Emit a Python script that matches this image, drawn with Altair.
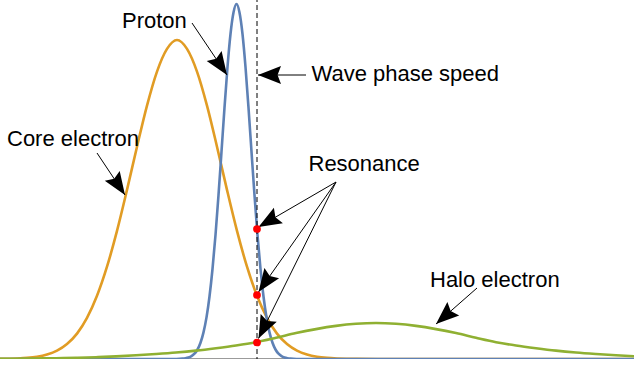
import math
import altair as alt
import pandas as pd

W, H = 634, 359

# ---- curves (x in px-like units, y = height above baseline)
core_x = [0, 17, 27, 37, 47, 57, 67, 77, 87, 97, 107, 117, 127, 137, 147, 157, 167, 177,
          187, 197, 207, 217, 227, 237, 247, 257, 267, 277, 287, 297, 307, 317, 327, 337, 357, 400, 634]
core_y = [0.12, 0.5, 1.08, 2.25, 4.5, 8.4, 15.0, 25.4, 41.1, 63.2, 92.3, 128.1, 169.1, 212.3, 253.4, 287.4, 310.1, 319,
          310.1, 287.4, 253.4, 212.3, 169.1, 128.1, 92.3, 63.2, 41.1, 25.4, 15.0, 8.4, 4.5, 2.25, 1.08, 0.5, 0.09, 0, 0]

proton_x = [0, 150, 176.5, 182.5, 185.5, 188.5, 191.5, 194.5, 197.5, 200.5, 203.5, 206.5, 209.5, 212.5, 215.5,
            218.5, 221.5, 224.5, 227.5, 230.5, 233.5, 236.5, 239.5, 242.5, 245.5, 248.5, 251.5, 254.5, 257.5,
            260.5, 263.5, 266.5, 269.5, 272.5, 275.5, 278.5, 281.5, 284.5, 287.5, 290.5, 296.5, 330, 634]
proton_y = [0, 0, 0.07, 0.34, 0.73, 1.48, 2.87, 5.3, 9.5, 16.2, 26.6, 41.6, 62.5, 90.0, 124.0,
            163.8, 207.3, 251.4, 292.0, 325.0, 346.5, 355, 346.5, 325.0, 292.0, 251.4, 207.3, 163.8, 124.0,
            90.0, 62.5, 41.6, 26.6, 16.2, 9.5, 5.3, 2.87, 1.48, 0.73, 0.34, 0.07, 0, 0]

halo_x = [0, 16, 36, 56, 76, 96, 116, 136, 156, 176, 196, 216, 236, 256, 276, 296, 316, 336, 356, 376,
          396, 416, 436, 456, 476, 496, 516, 536, 556, 576, 596, 616, 634]
halo_y = [0.2, 0.3, 0.5, 0.8, 1.2, 1.8, 2.6, 3.7, 5.0, 6.5, 8.4, 10.8, 13.5, 16.8, 21.2, 25.9, 29.9, 33.1, 35.2, 36,
          35.2, 33.1, 29.9, 25.9, 21.2, 16.8, 13.5, 10.8, 8.4, 6.5, 5.0, 3.7, 2.7]

phase_speed = 257
res_x = [257, 257, 257]
res_y = [130, 64, 16.5]

# annotations
label_text = ["Proton", "Wave phase speed", "Core electron", "Resonance", "Halo electron"]
label_x = [122, 311.5, 7, 308.5, 430]
label_y = [331, 278, 213, 188, 72]

arrow_tail_x = [192, 306, 97, 336, 336, 336, 477]
arrow_tail_y = [336, 284, 206, 177, 177, 177, 71]
arrow_tip_x = [227, 258, 125, 258.5, 258.5, 258.5, 436]
arrow_tip_y = [284, 284, 164, 132, 67, 20.5, 35]

COL_CORE = "#E19C24"
COL_PROTON = "#5E81B5"
COL_HALO = "#8FB032"

xs = alt.Scale(domain=[0, W], nice=False, zero=False)
ys = alt.Scale(domain=[0, H], nice=False, zero=False)


def curve(xv, yv, color):
    df = pd.DataFrame({"x": xv, "y": yv})
    return alt.Chart(df).mark_line(color=color, strokeWidth=2.6, interpolate="monotone").encode(
        x=alt.X("x:Q", scale=xs, axis=None),
        y=alt.Y("y:Q", scale=ys, axis=None),
    )


axis_line = alt.Chart(pd.DataFrame({"x": [0], "x2": [W], "y": [0]})).mark_rule(
    color="#7a7a7a", strokeWidth=1.4
).encode(x=alt.X("x:Q", scale=xs, axis=None), x2="x2:Q", y=alt.Y("y:Q", scale=ys, axis=None))

dashed = alt.Chart(pd.DataFrame({"x": [phase_speed], "y": [-3], "y2": [H]})).mark_rule(
    color="black", strokeWidth=1, strokeDash=[5, 3]
).encode(x=alt.X("x:Q", scale=xs, axis=None), y=alt.Y("y:Q", scale=ys, axis=None), y2="y2:Q")

arr = pd.DataFrame({"x": arrow_tail_x, "y": arrow_tail_y, "x2": arrow_tip_x, "y2": arrow_tip_y})
arr["angle"] = [
    (math.degrees(math.atan2(tx - sx, ty - sy)) + 360) % 360
    for sx, sy, tx, ty in zip(arrow_tail_x, arrow_tail_y, arrow_tip_x, arrow_tip_y)
]

arrow_lines = alt.Chart(arr).mark_rule(color="black", strokeWidth=1).encode(
    x=alt.X("x:Q", scale=xs, axis=None), y=alt.Y("y:Q", scale=ys, axis=None), x2="x2:Q", y2="y2:Q"
)

head_path = "M0,0 L0.78,2 L0,1.7 L-0.78,2 Z"
arrow_heads = alt.Chart(arr).mark_point(
    shape=head_path, filled=True, size=529, color="black", opacity=1, strokeWidth=0
).encode(
    x=alt.X("x2:Q", scale=xs, axis=None),
    y=alt.Y("y2:Q", scale=ys, axis=None),
    angle=alt.Angle("angle:Q", scale=None),
)

dots = alt.Chart(pd.DataFrame({"x": res_x, "y": res_y})).mark_circle(
    color="#FF0000", size=60, opacity=1
).encode(x=alt.X("x:Q", scale=xs, axis=None), y=alt.Y("y:Q", scale=ys, axis=None))

labels = alt.Chart(pd.DataFrame({"x": label_x, "y": label_y, "t": label_text})).mark_text(
    align="left", baseline="alphabetic", font="Liberation Sans", fontSize=22, color="black"
).encode(x=alt.X("x:Q", scale=xs, axis=None), y=alt.Y("y:Q", scale=ys, axis=None), text="t:N")

chart = alt.layer(
    axis_line,
    curve(core_x, core_y, COL_CORE),
    curve(proton_x, proton_y, COL_PROTON),
    curve(halo_x, halo_y, COL_HALO),
    dashed,
    arrow_lines,
    arrow_heads,
    dots,
    labels,
).properties(
    width=W, height=H, padding=0, autosize=alt.AutoSizeParams(type="none"), background="white"
).configure_view(stroke=None)

chart.save("out.html", embed_options={"renderer": "svg", "actions": False})
